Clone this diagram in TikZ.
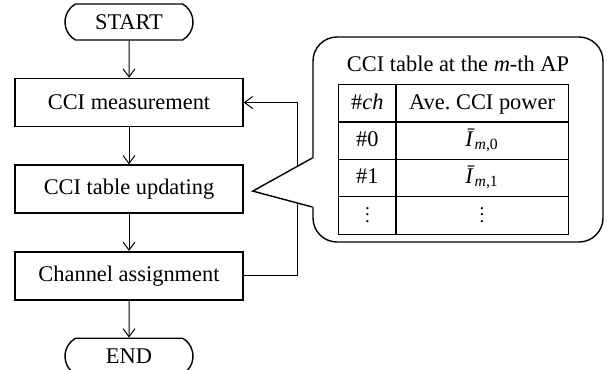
\documentclass[tikz,border=0pt]{standalone}
\usepackage{fontspec}
\setmainfont{Liberation Serif}
\usepackage{array}
\usetikzlibrary{positioning,shapes.misc,arrows.meta}

\newcommand{\cellstrut}{\rule[-6pt]{0pt}{18pt}}
\newcommand{\celldots}{\raisebox{-0.5pt}{\scalebox{0.85}{$\vdots$}}}
\setlength{\arrayrulewidth}{0.6pt}

\begin{document}
\begin{tikzpicture}[
    every node/.style={font=\fontsize{11.2pt}{13pt}\selectfont},
    terminal/.style={rounded rectangle, rounded rectangle arc length=120, draw, line width=0.7pt, minimum width=66pt, minimum height=18pt, inner sep=1pt},
    process/.style={rectangle, draw, line width=0.8pt, minimum width=114pt, minimum height=24pt},
    flow/.style={-{Straight Barb[length=4pt,width=6pt]}, line width=0.5pt},
    node distance=18.5pt]
    \useasboundingbox (-64.5pt,11pt) rectangle (239.5pt,-173.5pt);

    % Nodes
    \node[terminal] (start) {START};
    \node[process] (meas) [below=of start] {CCI measurement};
    \node[process] (upd) [below=of meas] {CCI table updating};
    \node[process] (assign) [below=of upd] {Channel assignment};
    \node[terminal] (stop) [below=of assign] {END};

    % Arrows
    \foreach \a/\b in {start/meas, meas/upd, upd/assign, assign/stop}
        \draw[flow] (\a) -- (\b);
    \draw[flow] (assign.east) -- ++(27pt,0) |- (meas.east);

    % Callout with the table
    \node[draw, line width=0.7pt, rounded corners=12pt, fill=white, minimum width=145pt, minimum height=102.5pt] (bubble) at (164.5pt,-58.75pt) {};
    \node (title) at ([yshift=-14pt]bubble.north) {CCI table at the \textit{m}-th AP};
    \node[inner sep=0pt] (tab) at ([xshift=-2.25pt,yshift=-10pt]bubble.center) {%
        \begin{tabular}{|wc{16pt}|wc{73.5pt}|}
            \hline
            \cellstrut\#\textit{ch} & Ave.\ CCI power \\ \hline
            \cellstrut\#0 & \textit{\=I}\textsubscript{\textit{m},0} \\ \hline
            \cellstrut\#1 & \textit{\=I}\textsubscript{\textit{m},1} \\ \hline
            \cellstrut\celldots & \celldots \\ \hline
        \end{tabular}};

    % Pointer
    \coordinate (tip) at ([xshift=4.5pt,yshift=-1pt]upd.east);
    \coordinate (pa) at ([yshift=-9.25pt]bubble.west);
    \coordinate (pb) at ([yshift=-33.75pt]bubble.west);
    \fill[white] ([xshift=1pt]pa) -- (tip) -- ([xshift=1pt]pb) -- cycle;
    \draw[line width=0.7pt] (pa) -- (tip) -- (pb);
\end{tikzpicture}
\end{document}
